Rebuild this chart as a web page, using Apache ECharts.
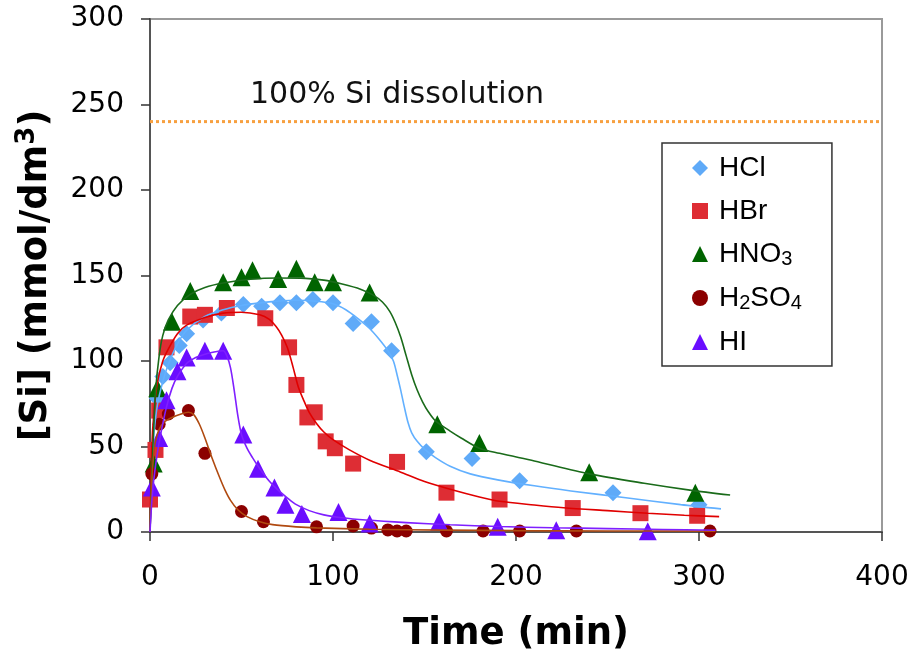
<!DOCTYPE html>
<html>
<head>
<meta charset="utf-8">
<script src="https://cdn.jsdelivr.net/npm/echarts@6/dist/echarts.min.js"></script>
<style>
  html, body { margin: 0; padding: 0; background: #fff; }
  #si-chart { width: 915px; height: 652px; }
</style>
</head>
<body>
<div id="si-chart"></div>
<script>
// measured points (time in min, [Si] in mmol/dm3)
const hclTime = [4, 7, 11, 16, 20, 29, 39, 51, 61, 71, 80, 89, 100, 111, 121, 132, 151, 176, 202, 253, 300];
const hclSi = [78, 91, 99, 109, 116, 124, 128, 133, 132, 134, 134, 136, 134, 122, 123, 106, 47, 43, 30, 23, 16];

const hbrTime = [0, 3, 5, 9, 22, 30, 42, 63, 76, 80, 86, 90, 96, 101, 111, 135, 162, 191, 231, 268, 299];
const hbrSi = [19, 48, 71, 108, 126, 127, 131, 125, 108, 86, 67, 70, 53, 49, 40, 41, 23, 19, 14, 11, 9.5];

const hno3Time = [2, 4, 12, 22, 40, 50, 56, 70, 80, 90, 100, 120, 157, 180, 240, 298];
const hno3Si = [40, 84, 123, 141, 146, 149, 153, 148, 154, 146, 146, 140, 63, 52, 35, 23];

const h2so4Time = [1, 5, 10, 21, 30, 50, 62, 91, 111, 121, 130, 135, 140, 162, 182, 202, 233, 306];
const h2so4Si = [34, 63, 69, 71, 46, 12, 6, 3, 3.5, 2.3, 1.2, 0.6, 0.6, 0.6, 0.6, 0.6, 0.6, 0.6];

const hiTime = [1, 5, 9, 15, 20, 30, 40, 51, 59, 68, 74, 83, 103, 120, 158, 190, 222, 272];
const hiSi = [26, 55, 77, 94, 102, 106, 106, 57, 37, 26, 16, 10.5, 11.7, 5, 6, 3, 1, 0.5];

// fitted curves
const hclFitTime = [0, 1, 2, 4, 7, 10, 15, 20, 30, 40, 50, 60, 70, 80, 90, 100, 107, 114, 120, 125, 130, 133, 135, 137, 139, 141, 143, 146, 150, 156, 164, 175, 190, 210, 230, 260, 290, 312];
const hclFitSi = [0, 35, 55, 74, 88, 98, 110, 118, 126, 130, 132.5, 134, 135, 135.5, 135, 133.5, 130, 124.5, 119, 113, 106, 100, 92, 83, 73, 64, 58, 53, 48.5, 43.5, 38.5, 34, 30.5, 27, 24, 20, 16, 13.5];

const hbrFitTime = [0, 1, 2, 4, 7, 10, 15, 20, 30, 40, 50, 60, 65, 69, 72, 75, 77, 79, 81, 84, 87, 91, 95, 100, 109, 120, 137, 150, 164, 180, 191, 210, 226, 250, 272, 292, 311];
const hbrFitSi = [0, 50, 68, 87, 100, 107, 116, 121, 125.5, 128, 128.5, 127, 124.5, 120, 115, 108, 101, 93, 85, 77, 70, 63.5, 58.5, 54, 48, 42, 35, 29.5, 25, 20.5, 18, 15.8, 14.2, 12.5, 11, 9.8, 9];

const hno3FitTime = [0, 1, 2, 3, 5, 7, 10, 15, 22, 30, 40, 55, 70, 85, 95, 105, 115, 122, 127, 131, 134, 137, 140, 143, 146, 149, 152, 156, 164, 170, 180, 191, 210, 240, 270, 295, 317];
const hno3FitSi = [0, 35, 60, 82, 103, 115, 124, 132.5, 139, 143, 145.6, 147.8, 148.5, 148.3, 147.3, 145, 142, 138.5, 134.5, 129, 122.5, 114, 103, 92, 83, 76, 70.5, 65, 59, 55, 49, 46, 41.5, 34, 28.5, 24.5, 21.6];

const h2so4FitTime = [0, 1, 2, 3, 5, 8, 12, 17, 21, 24, 27, 30, 34, 38, 41, 44, 48, 53, 60, 67, 80, 91, 120, 160, 200, 250, 309];
const h2so4FitSi = [0, 30, 45, 53, 60, 64.5, 67, 69, 70, 68.5, 63, 55, 43, 32, 24.5, 18.5, 13, 9, 6, 4.3, 3, 2.4, 1.6, 1.1, 0.8, 0.6, 0.5];

const hiFitTime = [0, 1, 2, 4, 6, 9, 12, 15, 20, 25, 30, 35, 40, 42, 44, 46, 48, 50, 53, 56, 60, 65, 70, 75, 80, 87, 95, 105, 118, 140, 164, 191, 220, 250, 280, 309];
const hiFitSi = [0, 18, 30, 46, 58, 73, 84, 91, 98.5, 102, 104, 105.3, 106, 103, 96, 83, 68, 57, 49, 43.5, 37, 30, 24.5, 20, 16, 12.5, 10, 8.3, 7, 5.5, 4.2, 3.2, 2.5, 2, 1.5, 1];

const fullDissolution = 240;
const fullDissolutionTime = [0, 400];

const xTicks = { min: 0, max: 400, step: 100 };
const yTicks = { min: 0, max: 300, step: 50 };

const FONT = 'DejaVu Sans';
const LEGEND_FONT = 'Liberation Sans';

const legendLabels = {
  'HCl': '{n|HCl}',
  'HBr': '{n|HBr}',
  'HNO3': '{n|HNO}{s|3}',
  'H2SO4': '{n|H}{s|2}{n|SO}{s|4}',
  'HI': '{n|HI}'
};

const pairs = (xs, ys) => xs.map((x, i) => [x, ys[i]]);

function points(name, xs, ys, symbol, size, color) {
  return {
    name,
    type: 'scatter',
    symbol,
    symbolSize: size,
    itemStyle: { color, opacity: 1 },
    z: 2,
    data: pairs(xs, ys)
  };
}

function fit(name, xs, ys, color) {
  return {
    name,
    type: 'line',
    smooth: 0.3,
    showSymbol: false,
    symbol: 'none',
    lineStyle: { color, width: 1.6 },
    z: 3,
    silent: true,
    data: pairs(xs, ys)
  };
}

const chartOptions = {
  animation: false,
  backgroundColor: '#fff',
  grid: {
    left: 150,
    right: 33,
    top: 19,
    bottom: 120,
    show: true,
    borderColor: '#9a9a9a',
    borderWidth: 2,
    containLabel: false,
    outerBoundsMode: 'none'
  },
  legend: {
    data: ['HCl', 'HBr', 'HNO3', 'H2SO4', 'HI'],
    orient: 'vertical',
    left: 662,
    top: 143,
    padding: [11, 30, 10, 30],
    itemGap: 15,
    itemWidth: 16,
    itemHeight: 16,
    borderColor: '#333',
    borderWidth: 1.5,
    formatter: name => legendLabels[name],
    textStyle: {
      color: '#000',
      padding: [0, 0, 0, 6],
      rich: {
        n: { fontFamily: LEGEND_FONT, fontSize: 28, lineHeight: 30, color: '#000' },
        s: { fontFamily: LEGEND_FONT, fontSize: 20, lineHeight: 30, verticalAlign: 'bottom', color: '#000' }
      }
    }
  },
  xAxis: {
    type: 'value',
    min: xTicks.min,
    max: xTicks.max,
    interval: xTicks.step,
    name: 'Time (min)',
    nameLocation: 'middle',
    nameGap: 84,
    nameTextStyle: { fontFamily: FONT, fontSize: 37, fontWeight: 'bold', color: '#000' },
    splitLine: { show: false },
    axisLine: { onZero: false, lineStyle: { color: '#555', width: 2 } },
    axisTick: { inside: false, length: 9, lineStyle: { color: '#333', width: 1.5 } },
    axisLabel: { margin: 32, fontFamily: FONT, fontSize: 28, color: '#000' }
  },
  yAxis: {
    type: 'value',
    min: yTicks.min,
    max: yTicks.max,
    interval: yTicks.step,
    name: '[Si] (mmol/dm{sup|3})',
    nameLocation: 'middle',
    nameGap: 92,
    nameTextStyle: {
      fontFamily: FONT, fontSize: 37, fontWeight: 'bold', color: '#000', lineHeight: 44,
      rich: {
        sup: { fontFamily: FONT, fontSize: 26, fontWeight: 'bold', color: '#000', verticalAlign: 'top', lineHeight: 44 }
      }
    },
    splitLine: { show: false },
    axisLine: { onZero: false, lineStyle: { color: '#555', width: 2 } },
    axisTick: { inside: false, length: 9, lineStyle: { color: '#333', width: 1.5 } },
    axisLabel: { margin: 26, fontFamily: FONT, fontSize: 28, color: '#000' }
  },
  graphic: [
    {
      type: 'text',
      left: 250,
      top: 80,
      style: { text: '100% Si dissolution', fontFamily: FONT, fontSize: 30, fill: '#111' }
    }
  ],
  series: [
    {
      name: 'full',
      type: 'line',
      symbol: 'none',
      silent: true,
      lineStyle: { color: '#F7A040', width: 3, type: [3, 3] },
      z: 1,
      data: fullDissolutionTime.map(t => [t, fullDissolution])
    },
    points('HCl', hclTime, hclSi, 'diamond', 17, '#5FAAF8'),
    points('HBr', hbrTime, hbrSi, 'rect', 16, '#DE2D34'),
    points('HNO3', hno3Time, hno3Si, 'triangle', 18, '#006400'),
    points('H2SO4', h2so4Time, h2so4Si, 'circle', 13, '#8B0000'),
    points('HI', hiTime, hiSi, 'triangle', 18, '#6A0DFF'),
    fit('HCl fit', hclFitTime, hclFitSi, '#62B0FF'),
    fit('HBr fit', hbrFitTime, hbrFitSi, '#E00000'),
    fit('HNO3 fit', hno3FitTime, hno3FitSi, '#1A6B1A'),
    fit('H2SO4 fit', h2so4FitTime, h2so4FitSi, '#B04A10'),
    fit('HI fit', hiFitTime, hiFitSi, '#7F1FFF')
  ]
};

const siChart = echarts.init(document.getElementById('si-chart'));
siChart.setOption(chartOptions);
</script>
</body>
</html>
